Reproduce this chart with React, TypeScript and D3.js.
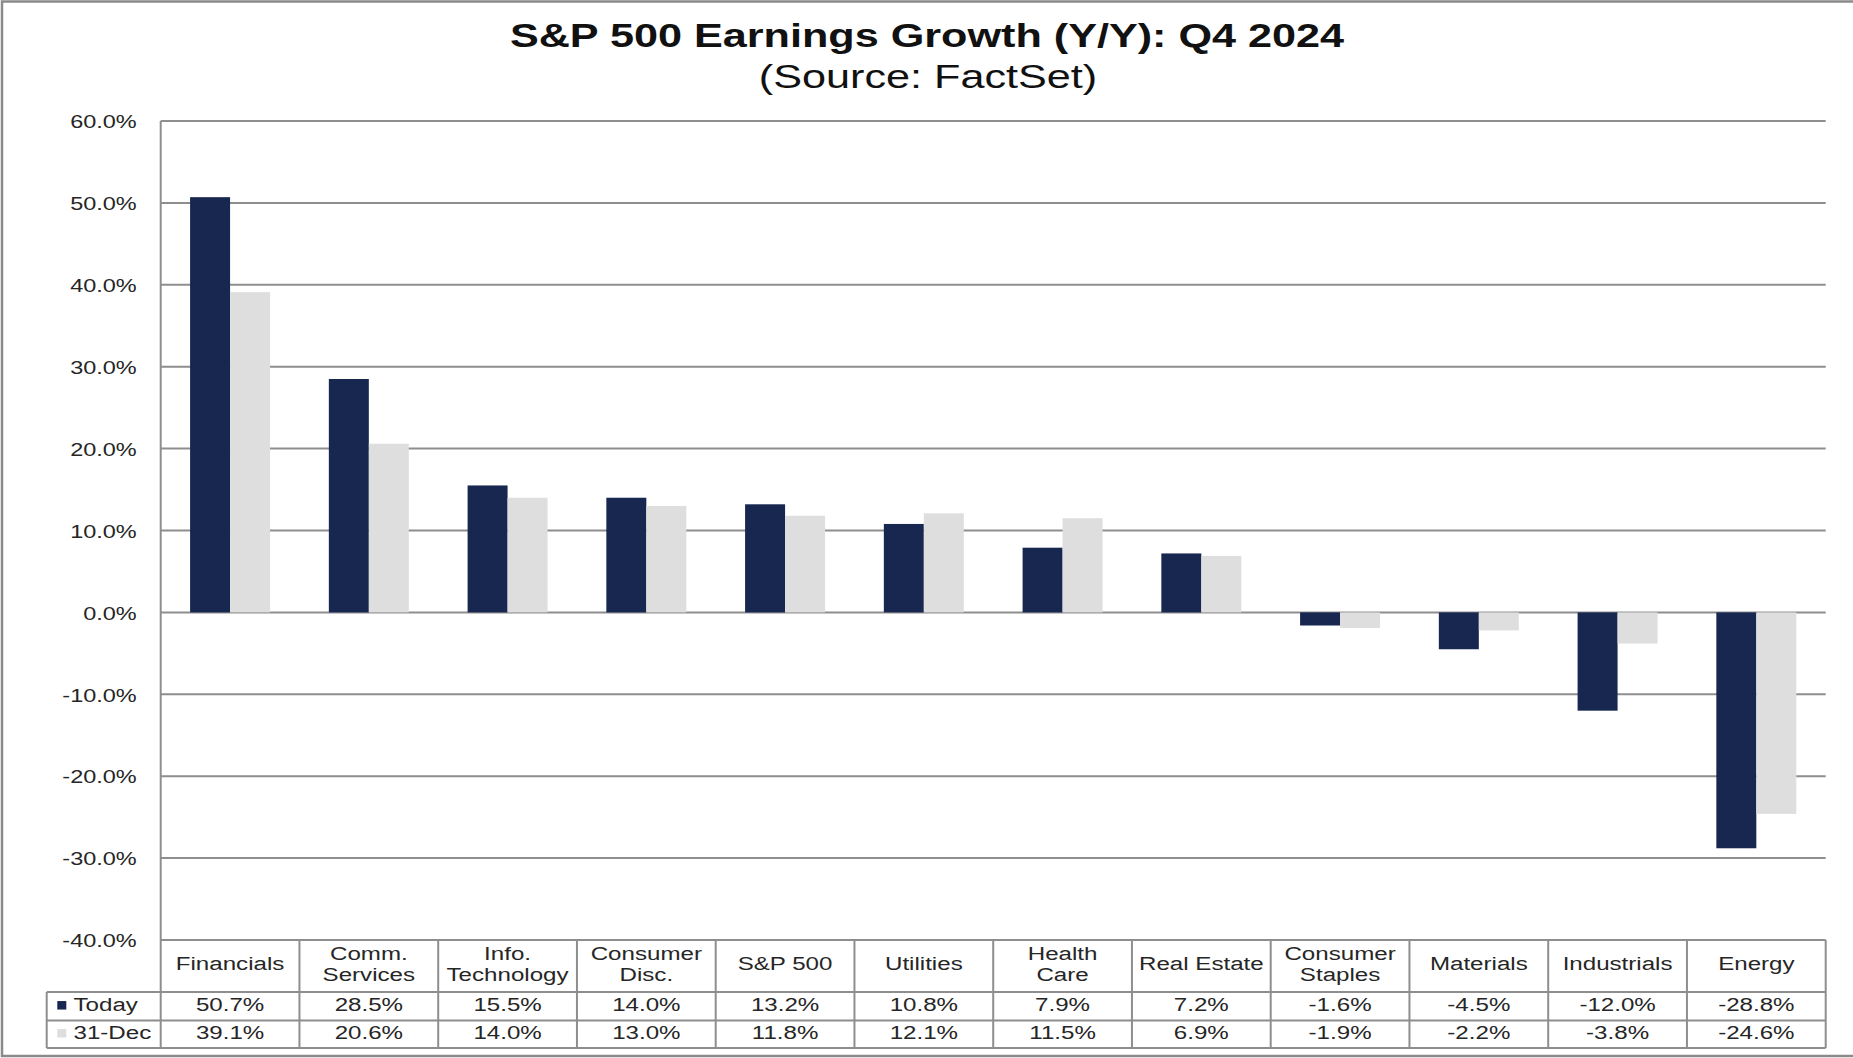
import React from "react";
import * as d3 from "d3";

const categories: string[][] = [
  ["Financials"],
  ["Comm.", "Services"],
  ["Info.", "Technology"],
  ["Consumer", "Disc."],
  ["S&P 500"],
  ["Utilities"],
  ["Health", "Care"],
  ["Real Estate"],
  ["Consumer", "Staples"],
  ["Materials"],
  ["Industrials"],
  ["Energy"],
];
const todayValues = [50.7, 28.5, 15.5, 14.0, 13.2, 10.8, 7.9, 7.2, -1.6, -4.5, -12.0, -28.8];
const decValues = [39.1, 20.6, 14.0, 13.0, 11.8, 12.1, 11.5, 6.9, -1.9, -2.2, -3.8, -24.6];
const seriesNames = ["Today", "31-Dec"];
const yTicks = [60, 50, 40, 30, 20, 10, 0, -10, -20, -30, -40];
const title = "S&P 500 Earnings Growth  (Y/Y): Q4 2024";
const subtitle = "(Source: FactSet)";

const W = 1853;
const H = 1058;
const SX = 1.27;
const NAVY = "#172750";
const LIGHT = "#dedede";
const GRID = "#8e8e8e";
const TXT = "#262626";
const FONT = "'Liberation Sans', Arial, sans-serif";

const pct = (v: number) => d3.format(".1f")(v).replace("\u2212", "-") + "%";

function T(props: {
  x: number;
  y: number;
  anchor?: string;
  size: number;
  weight?: string | number;
  fill?: string;
  children: React.ReactNode;
}) {
  const { x, y, anchor = "middle", size, weight = "normal", fill = TXT, children } = props;
  return (
    <text
      transform={`translate(${x},${y}) scale(${SX},1)`}
      textAnchor={anchor}
      fontSize={size}
      fontWeight={weight}
      fill={fill}
      fontFamily={FONT}
      dy="0.35em"
    >
      {children}
    </text>
  );
}

export default function App() {
  const plotLeft = 160.7;
  const plotRight = 1825.7;
  const y = d3.scaleLinear().domain([-40, 60]).range([940, 121]);
  const keys = categories.map((c) => c.join(" "));
  const x0 = d3.scaleBand<string>().domain(keys).range([plotLeft, plotRight]).padding(0);
  const x1 = d3
    .scaleBand<string>()
    .domain(seriesNames)
    .range([0, x0.bandwidth()])
    .paddingInner(0)
    .paddingOuter(0.735);

  const tableTop = y(-40);
  const headerBottom = 992;
  const rowMid = 1020.5;
  const tableBottom = 1048;
  const legendLeft = 46.7;
  const series = [
    { name: seriesNames[0], values: todayValues, color: NAVY },
    { name: seriesNames[1], values: decValues, color: LIGHT },
  ];
  const textShift = -2.2;
  const rowYs = [(headerBottom + rowMid) / 2 + textShift, (rowMid + tableBottom) / 2 + textShift];
  const headerMid = (tableTop + headerBottom) / 2 + textShift;

  return (
    <div style={{ position: "absolute", left: 0, top: 0 }}>
      <svg width={W} height={H} style={{ display: "block", background: "#fff" }}>
        <rect x={0} y={0} width={W} height={H} fill="#fff" />
        <rect x={2} y={1.5} width={W + 4} height={1054.5} fill="none" stroke="#8a8a8a" strokeWidth={2.5} />

        <T x={927} y={35} size={34} weight="bold" fill="#111">{title}</T>
        <T x={928} y={76} size={34} fill="#111">{subtitle}</T>

        {/* gridlines */}
        {yTicks.map((t) => (
          <line key={"g" + t} x1={plotLeft} x2={plotRight} y1={y(t)} y2={y(t)} stroke={GRID} strokeWidth={2} />
        ))}
        {/* y tick labels */}
        {yTicks.map((t) => (
          <T key={"t" + t} x={136.7} y={y(t) + 0.8} anchor="end" size={18.5}>
            {pct(t)}
          </T>
        ))}

        {/* bars */}
        {series.map((s) =>
          s.values.map((v, i) => {
            const xb = (x0(keys[i]) as number) + (x1(s.name) as number);
            const y0 = y(0);
            const yv = y(v);
            return (
              <rect
                key={s.name + i}
                x={xb}
                width={x1.bandwidth()}
                y={Math.min(y0, yv)}
                height={Math.abs(yv - y0)}
                fill={s.color}
              />
            );
          })
        )}

        {/* y axis line */}
        <line x1={plotLeft} x2={plotLeft} y1={y(60)} y2={tableBottom} stroke={GRID} strokeWidth={2} />

        {/* table lines */}
        <line x1={legendLeft} x2={plotRight} y1={headerBottom} y2={headerBottom} stroke={GRID} strokeWidth={2} />
        <line x1={legendLeft} x2={plotRight} y1={rowMid} y2={rowMid} stroke={GRID} strokeWidth={2} />
        <line x1={legendLeft} x2={plotRight} y1={tableBottom} y2={tableBottom} stroke={GRID} strokeWidth={2} />
        <line x1={legendLeft} x2={legendLeft} y1={headerBottom} y2={tableBottom} stroke={GRID} strokeWidth={2} />
        {keys.map((k) => {
          const xr = (x0(k) as number) + x0.bandwidth();
          return <line key={"v" + k} x1={xr} x2={xr} y1={tableTop} y2={tableBottom} stroke={GRID} strokeWidth={2} />;
        })}

        {/* header labels */}
        {categories.map((c, i) => {
          const cx = (x0(keys[i]) as number) + x0.bandwidth() / 2;
          return c.map((line, j) => (
            <T key={"h" + i + j} x={cx} y={headerMid + (j - (c.length - 1) / 2) * 20.5} size={19}>
              {line}
            </T>
          ));
        })}

        {/* legend cells */}
        {series.map((s, r) => (
          <g key={"leg" + r}>
            <rect x={57.3} y={rowYs[r] - 3} width={9} height={8.5} fill={s.color} />
            <T x={73.5} y={rowYs[r]} anchor="start" size={19}>
              {s.name}
            </T>
          </g>
        ))}

        {/* values */}
        {series.map((s, r) =>
          s.values.map((v, i) => {
            const cx = (x0(keys[i]) as number) + x0.bandwidth() / 2;
            return (
              <T key={"val" + r + i} x={cx} y={rowYs[r]} size={19}>
                {pct(v)}
              </T>
            );
          })
        )}
      </svg>
    </div>
  );
}
